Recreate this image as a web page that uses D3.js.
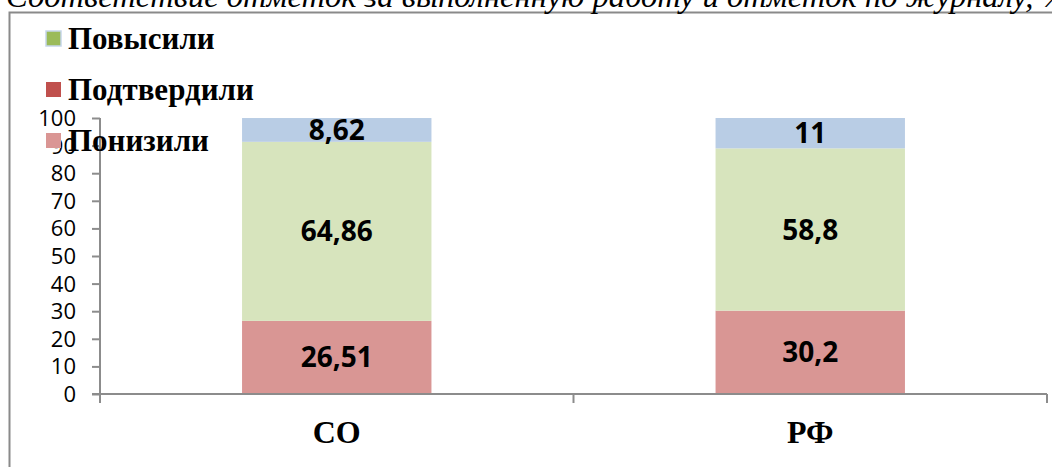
<!DOCTYPE html>
<html><head><meta charset="utf-8">
<script src="https://cdn.jsdelivr.net/npm/d3@7"></script>
<style>
html,body{margin:0;padding:0;background:#fff;overflow:hidden;}
</style></head>
<body><svg id="chart" width="1052" height="467"></svg>
<script>
const titleText = "Соответствие отметок за выполненную работу и отметок по журналу, %";
const categories = ["СО", "РФ"];
const seriesNames = ["Понизили", "Подтвердили", "Повысили"];
const lowered = [26.51, 30.2];
const confirmed = [64.86, 58.8];
const raised = [8.62, 11];
const labelsLowered = ["26,51", "30,2"];
const labelsConfirmed = ["64,86", "58,8"];
const labelsRaised = ["8,62", "11"];
const yTicks = [0,10,20,30,40,50,60,70,80,90,100];
const legendNames = ["Повысили", "Подтвердили", "Понизили"];

const barColors = ["#D99694", "#D7E4BD", "#B9CDE5"];
const legendColors = {"Повысили":"#9BBB59","Подтвердили":"#C0504D","Понизили":"#DA9694"};
const axisColor = "#8C8C8C";

const svg = d3.select("#chart");

// frame
svg.append("path").attr("d","M9.5,467 L9.5,12.5 L1052,12.5")
  .attr("fill","none").attr("stroke","#8A8A8A").attr("stroke-width",2);

// title (cropped at top)
svg.append("text").attr("x",6).attr("y",7)
  .attr("font-family","'Liberation Serif', serif").attr("font-style","italic")
  .attr("font-size",32.6).attr("fill","#000").text(titleText);

const x = d3.scaleBand().domain(categories).range([100,1047]).paddingInner(0).paddingOuter(0);
const y = d3.scaleLinear().domain([0,100]).range([394,118]);
const barW = x.bandwidth()*0.4;

const rows = categories.map((c,i)=>({cat:c, vals:[lowered[i],confirmed[i],raised[i]], labels:[labelsLowered[i],labelsConfirmed[i],labelsRaised[i]]}));

// y axis
const yAxis = d3.axisLeft(y).tickValues(yTicks).tickSize(8).tickPadding(16).tickFormat(d3.format("d"));
const gy = svg.append("g").attr("transform","translate(100,0)").call(yAxis);
gy.select(".domain").attr("stroke",axisColor).attr("stroke-width",2).attr("d","M0,118V402");
gy.selectAll(".tick line").attr("stroke",axisColor).attr("stroke-width",2);
gy.selectAll(".tick text").attr("font-family","'Open Sans', sans-serif").attr("font-size",22).attr("fill","#000").attr("dy","0.34em");

// bars
rows.forEach(r=>{
  let cum = 0;
  r.vals.forEach((v,k)=>{
    const y0 = cum, y1 = cum+v; cum = y1;
    const cx = x(r.cat)+x.bandwidth()/2;
    svg.append("rect").attr("x",cx-barW/2).attr("width",barW)
      .attr("y",y(Math.min(y1,100))).attr("height",y(y0)-y(Math.min(y1,100)))
      .attr("fill",barColors[k]);
    svg.append("text").attr("x",cx).attr("y",(y(y0)+y(Math.min(y1,100)))/2)
      .attr("text-anchor","middle").attr("dy","0.36em")
      .attr("font-family","'Open Sans', sans-serif").attr("font-weight","bold")
      .attr("font-size",28).attr("fill","#000").text(r.labels[k]);
  });
});

// x axis
const gx = svg.append("g");
gx.append("line").attr("x1",92).attr("x2",1047).attr("y1",y(0)).attr("y2",y(0))
  .attr("stroke",axisColor).attr("stroke-width",2);
const bounds = [x.range()[0]].concat(categories.map(c=>x(c)+x.bandwidth()));
gx.selectAll("line.tk").data(bounds).enter().append("line").attr("class","tk")
  .attr("x1",d=>d).attr("x2",d=>d).attr("y1",y(0)).attr("y2",y(0)+9)
  .attr("stroke",axisColor).attr("stroke-width",2);
gx.selectAll("text").data(categories).enter().append("text")
  .attr("x",d=>x(d)+x.bandwidth()/2).attr("y",443)
  .attr("text-anchor","middle")
  .attr("font-family","'Liberation Serif', serif").attr("font-weight","bold")
  .attr("font-size",32).attr("fill","#000").text(d=>d);

// legend
const lg = svg.append("g");
legendNames.forEach((n,i)=>{
  const by = 49 + i*51;
  const sw = lg.append("rect").attr("x",46).attr("y",by-18).attr("width",15).attr("height",15)
    .attr("fill",legendColors[n]);
  if(i===0) sw.attr("stroke","#C6D6EA").attr("stroke-width",1.5);
  lg.append("text").attr("x",68).attr("y",by)
    .attr("font-family","'Liberation Serif', serif").attr("font-weight","bold")
    .attr("font-size",31).attr("fill","#000").text(n);
});
</script>
</body></html>
